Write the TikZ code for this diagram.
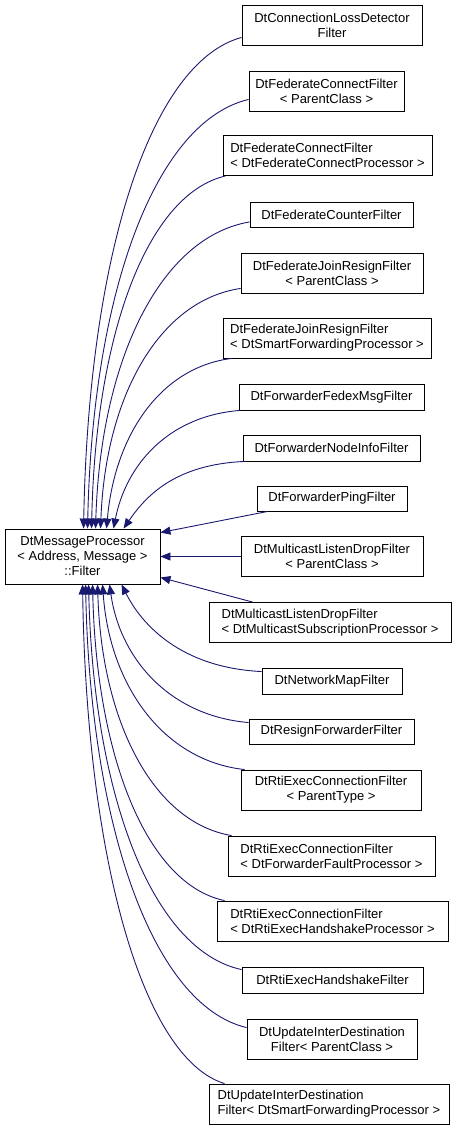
\documentclass[tikz,border=0pt]{standalone}
\usepackage{fontspec}
\setmainfont{Liberation Sans}
\usetikzlibrary{arrows.meta,calc}
\definecolor{midnight}{RGB}{25,25,112}
\begin{document}
\begin{tikzpicture}[x=1pt,y=-1pt,
  cls/.style={draw=black,line width=0.9pt,fill=white,inner sep=0pt,
    font=\fontsize{13}{15}\selectfont,align=center},
  lcls/.style={cls,align=left},
  edge/.style={draw=midnight,line width=0.9pt,{Triangle[length=10pt,width=8pt]}-}]
\useasboundingbox (0,0) rectangle (461,1129);
\node[cls,minimum width=155pt,minimum height=55pt] (base) at (82.5,556.5) {DtMessageProcessor\\< Address, Message >\\::Filter};
\node[cls,minimum width=180pt,minimum height=40pt] (b1) at (332,25) {DtConnectionLossDetector\\Filter};
\node[cls,minimum width=155pt,minimum height=40pt] (b2) at (326.5,91) {DtFederateConnectFilter\\< ParentClass >};
\node[lcls,minimum width=209pt,minimum height=40pt] (b3) at (327.5,155.5) {DtFederateConnectFilter\\< DtFederateConnectProcessor >};
\node[cls,minimum width=163pt,minimum height=25pt] (b4) at (331.5,215) {DtFederateCounterFilter};
\node[cls,minimum width=182pt,minimum height=40pt] (b5) at (332,273) {DtFederateJoinResignFilter\\< ParentClass >};
\node[lcls,minimum width=208pt,minimum height=40pt] (b6) at (327,338) {DtFederateJoinResignFilter\\< DtSmartForwardingProcessor >};
\node[cls,minimum width=185pt,minimum height=26pt] (b7) at (331.5,397) {DtForwarderFedexMsgFilter};
\node[cls,minimum width=177pt,minimum height=26pt] (b8) at (331.5,448) {DtForwarderNodeInfoFilter};
\node[cls,minimum width=150pt,minimum height=25pt] (b9) at (332,498.5) {DtForwarderPingFilter};
\node[cls,minimum width=182pt,minimum height=40pt] (b10) at (332,556.5) {DtMulticastListenDropFilter\\< ParentClass >};
\node[lcls,minimum width=242pt,minimum height=40pt] (b11) at (330,622.5) {DtMulticastListenDropFilter\\< DtMulticastSubscriptionProcessor >};
\node[cls,minimum width=140pt,minimum height=26pt] (b12) at (332,681) {DtNetworkMapFilter};
\node[cls,minimum width=165pt,minimum height=25pt] (b13) at (331.5,731.5) {DtResignForwarderFilter};
\node[cls,minimum width=180pt,minimum height=40pt] (b14) at (331,790) {DtRtiExecConnectionFilter\\< ParentType >};
\node[lcls,minimum width=207pt,minimum height=40pt] (b15) at (331.5,856) {DtRtiExecConnectionFilter\\< DtForwarderFaultProcessor >};
\node[lcls,minimum width=231pt,minimum height=40pt] (b16) at (332.5,921) {DtRtiExecConnectionFilter\\< DtRtiExecHandshakeProcessor >};
\node[cls,minimum width=181pt,minimum height=26pt] (b17) at (332.5,980) {DtRtiExecHandshakeFilter};
\node[cls,minimum width=170pt,minimum height=40pt] (b18) at (332,1039) {DtUpdateInterDestination\\Filter< ParentClass >};
\node[lcls,minimum width=240pt,minimum height=40pt] (b19) at (329,1104) {DtUpdateInterDestination\\Filter< DtSmartForwardingProcessor >};
% upper edges
\draw[edge] ($(base.north west)+(79,0)$) .. controls +(5,-271) and +(-92,25) .. ($(b1.south west)+(0,-8)$);
\draw[edge] ($(base.north west)+(83,0)$) .. controls +(5,-237) and +(-93,22) .. ($(b2.south west)+(0,-12)$);
\draw[edge] ($(base.north west)+(87,0)$) .. controls +(4,-195) and +(-78,18) .. ($(b3.south west)+(3,0)$);
\draw[edge] ($(base.north west)+(91,0)$) .. controls +(5,-169) and +(-89,15) .. ($(b4.south west)+(0,-6)$);
\draw[edge] ($(base.north west)+(96,0)$) .. controls +(5,-133) and +(-81,12) .. ($(b5.south west)+(0,-5)$);
\draw[edge] ($(base.north west)+(102,0)$) .. controls +(8,-92) and +(-72,9) .. ($(b6.south west)+(9,0)$);
\draw[edge] ($(base.north west)+(109,0)$) .. controls +(12,-62) and +(-73,6) .. ($(b7.south west)+(1,0)$);
\draw[edge] ($(base.north west)+(119,0)$) .. controls +(22,-32) and +(-70,3) .. ($(b8.south west)+(2,0)$);
% straight edges
\draw[edge] ($(base.north east)+(0,4)$) -- ($(b9.south west)+(11,0)$);
\draw[edge] (base.east) -- (b10.west);
\draw[edge] ($(base.south east)+(0,-7)$) -- ($(b11.north west)+(44,0)$);
% lower edges
\draw[edge] ($(base.south west)+(117,0)$) .. controls +(20,40) and +(-81,-4) .. ($(b12.north west)+(0,4)$);
\draw[edge] ($(base.south west)+(105,0)$) .. controls +(10,72) and +(-81,-7) .. ($(b13.north west)+(0,4)$);
\draw[edge] ($(base.south west)+(98,0)$) .. controls +(7,100) and +(-82,-9) .. ($(b14.north west)+(4,0)$);
\draw[edge] ($(base.south west)+(93,0)$) .. controls +(4,138) and +(-78,-13) .. ($(b15.north west)+(4,0)$);
\draw[edge] ($(base.south west)+(88,0)$) .. controls +(4,174) and +(-77,-16) .. ($(b16.north west)+(8,0)$);
\draw[edge] ($(base.south west)+(84,0)$) .. controls +(5,212) and +(-89,-19) .. ($(b17.north west)+(0,3)$);
\draw[edge] ($(base.south west)+(81,0)$) .. controls +(5,244) and +(-93,-22) .. ($(b18.north west)+(0,9)$);
\draw[edge] ($(base.south west)+(78,0)$) .. controls +(4,274) and +(-82,-25) .. ($(b19.north west)+(16,0)$);
\end{tikzpicture}
\end{document}
